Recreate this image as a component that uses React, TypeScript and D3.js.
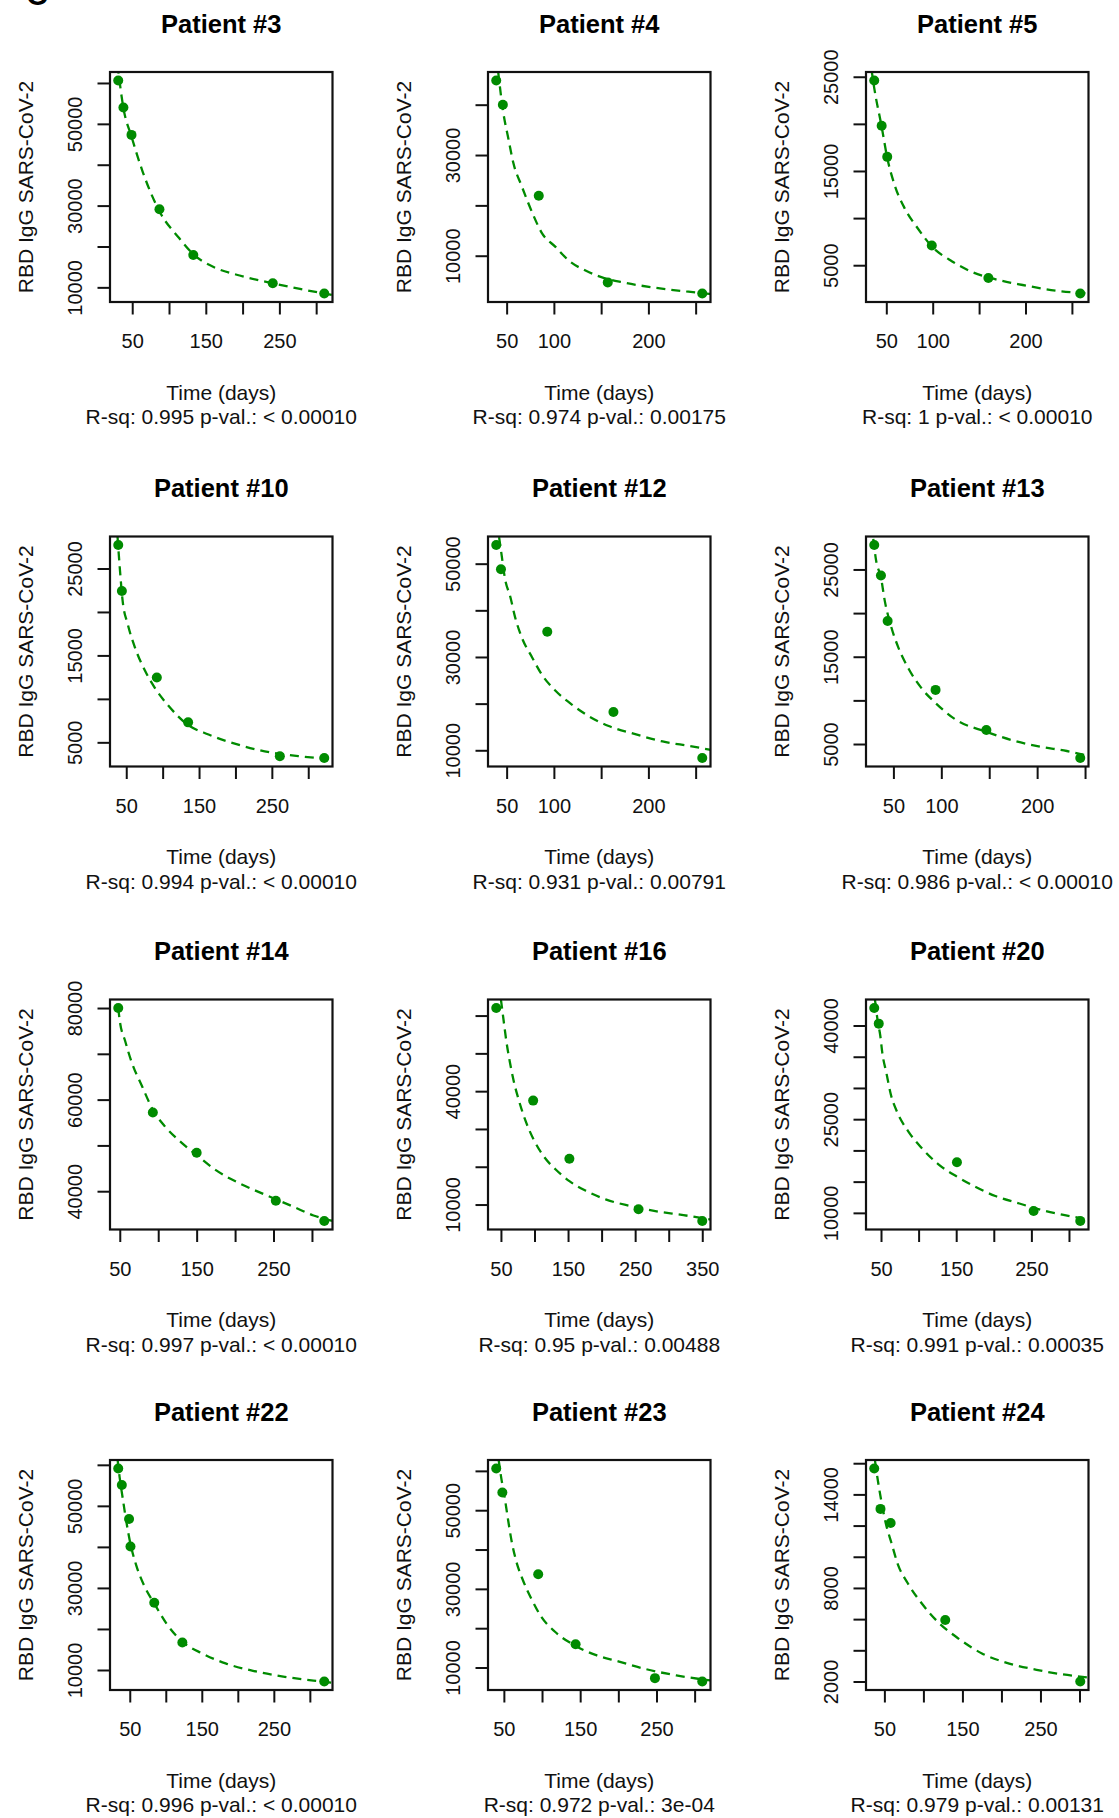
import React, { useRef, useEffect } from 'react';
import * as d3 from 'd3';

// measured points (days since onset, RBD IgG) and the fitted decay curve, per patient
const days3 = [31, 38, 49, 87, 133, 241, 311];
const igg3 = [60600, 54000, 47300, 29100, 17900, 11000, 8500];
const fitDays3 = [30, 38, 49, 64, 87, 114, 133, 164, 196, 241, 278, 323];
const fitIgg3 = [64500, 53900, 46900, 38400, 28600, 22000, 18100, 14700, 12900, 11000, 9600, 8100];

const days4 = [39, 46, 84, 157, 257];
const igg4 = [44800, 40000, 21900, 4700, 2500];
const fitDays4 = [41, 46, 52, 57, 66, 77, 87, 102, 116, 134, 151, 173, 205, 240, 266];
const fitIgg4 = [46600, 39000, 33100, 28500, 23800, 18600, 14600, 11700, 9000, 7000, 5700, 4700, 3700, 2900, 2400];

const days5 = [37, 45, 51, 99, 160, 259];
const igg5 = [24600, 19800, 16500, 7100, 3650, 2000];
const fitDays5 = [34, 37, 45, 51, 59, 70, 84, 99, 121, 142, 164, 197, 233, 268];
const fitIgg5 = [25800, 23800, 19700, 16400, 13500, 11000, 8900, 7000, 5400, 4300, 3600, 2900, 2300, 2000];

const days10 = [39, 44, 92, 135, 261, 322];
const igg10 = [27700, 22400, 12450, 7300, 3400, 3200];
const fitDays10 = [38, 41, 45, 52, 62, 76, 89, 108, 135, 163, 205, 251, 288, 333];
const fitIgg10 = [28700, 25200, 21300, 18600, 15900, 13200, 11300, 9200, 7000, 5900, 4700, 3800, 3400, 3100];

const days12 = [39, 44, 93, 163, 257];
const igg12 = [54000, 48800, 35400, 18200, 8350];
const fitDays12 = [42, 45, 48, 54, 59, 66, 77, 87, 102, 119, 137, 158, 187, 215, 244, 266];
const fitIgg12 = [55700, 51400, 47100, 42800, 38500, 34200, 29900, 26300, 22700, 19800, 17300, 15200, 13400, 11900, 10900, 10100];

const days13 = [30, 37, 44, 94, 147, 245];
const igg13 = [27800, 24300, 19100, 11200, 6600, 3400];
const fitDays13 = [29, 32, 37, 41, 47, 55, 66, 80, 94, 115, 147, 175, 203, 231, 255];
const fitIgg13 = [28500, 26000, 24100, 21400, 18700, 16100, 13600, 11300, 9700, 7800, 6400, 5400, 4700, 4200, 3600];

const days14 = [48, 93, 150, 253, 316];
const igg14 = [80000, 57200, 48400, 37900, 33500];
const fitDays14 = [48, 50, 57, 65, 79, 93, 109, 131, 150, 175, 206, 241, 276, 302, 327];
const fitIgg14 = [80000, 77200, 72800, 68400, 62900, 57800, 54100, 50500, 47900, 44600, 41700, 39100, 36600, 34700, 33500];

const days16 = [43, 98, 152, 255, 350];
const igg16 = [62000, 37500, 22100, 8750, 5650];
const fitDays16 = [50, 54, 58, 63, 69, 77, 87, 99, 114, 132, 152, 177, 207, 242, 282, 322, 363];
const fitIgg16 = [64200, 58700, 53300, 48000, 42700, 37400, 32000, 27100, 22700, 19200, 16200, 13600, 11300, 9650, 8200, 7200, 6000];

const days20 = [41, 47, 151, 253, 315];
const igg20 = [42800, 40300, 18100, 10300, 8700];
const fitDays20 = [42, 45.5, 49, 52, 57, 63, 72, 86, 104, 126, 151, 175, 202, 234, 265, 296, 327];
const fitIgg20 = [44100, 40800, 38400, 35400, 32500, 29000, 26000, 23100, 20400, 17800, 15800, 14200, 12700, 11500, 10400, 9600, 8900];

const days22 = [34, 39, 49, 51, 84, 123, 320];
const igg22 = [59100, 55100, 46800, 40100, 26400, 16700, 7200];
const fitDays22 = [33, 36, 40, 45, 51, 59, 71, 84, 101, 123, 151, 183, 221, 263, 305, 331];
const fitIgg22 = [61400, 56900, 52100, 46400, 40700, 35500, 30200, 26200, 21300, 16900, 14000, 11600, 9800, 8400, 7400, 6900];

const days23 = [40, 48, 95, 144, 248, 310];
const igg23 = [60600, 54500, 33700, 15900, 7300, 6450];
const fitDays23 = [43, 46.5, 51, 55, 60, 66, 75, 86, 99, 117, 144, 170, 201, 236, 276, 321];
const fitIgg23 = [63000, 58300, 53300, 48200, 42300, 37200, 32200, 27500, 22900, 19100, 15500, 13200, 11500, 9600, 8000, 6700];

const days24 = [37, 45, 58, 128, 301];
const igg24 = [15660, 13070, 12170, 5940, 2000];
const fitDays24 = [38, 41, 46, 52, 59, 67, 80, 98, 119, 145, 175, 210, 245, 279, 313];
const fitIgg24 = [16150, 15100, 13600, 12100, 10900, 9550, 8300, 7000, 5800, 4750, 3800, 3150, 2750, 2450, 2250];

// axis ticks (R draws every tick but drops overlapping labels)
const xTicks250 = [50, 100, 150, 200, 250];
const xTicks300 = [50, 100, 150, 200, 250, 300];
const xTicks350 = [50, 100, 150, 200, 250, 300, 350];
const xLabelsOdd = [50, 150, 250];
const xLabelsHund = [50, 100, 200];
const xLabels350 = [50, 150, 250, 350];

const yTicks10k = [10000, 20000, 30000, 40000, 50000, 60000];
const yLabels10k = [10000, 30000, 50000];
const yTicks5k = [5000, 10000, 15000, 20000, 25000];
const yLabels5k = [5000, 15000, 25000];
const yTicks4 = [10000, 20000, 30000, 40000];
const yLabels4 = [10000, 30000];
const yTicks14 = [40000, 50000, 60000, 70000, 80000];
const yLabels14 = [40000, 60000, 80000];
const yLabels16 = [10000, 40000];
const yTicks20 = [10000, 15000, 20000, 25000, 30000, 35000, 40000];
const yLabels20 = [10000, 25000, 40000];
const yTicks24 = [2000, 4000, 6000, 8000, 10000, 12000, 14000, 16000];
const yLabels24 = [2000, 8000, 14000];

const titles = ['Patient #3', 'Patient #4', 'Patient #5', 'Patient #10', 'Patient #12', 'Patient #13',
  'Patient #14', 'Patient #16', 'Patient #20', 'Patient #22', 'Patient #23', 'Patient #24'];
const stats = [
  'R-sq: 0.995 p-val.: < 0.00010', 'R-sq: 0.974 p-val.: 0.00175', 'R-sq: 1 p-val.: < 0.00010',
  'R-sq: 0.994 p-val.: < 0.00010', 'R-sq: 0.931 p-val.: 0.00791', 'R-sq: 0.986 p-val.: < 0.00010',
  'R-sq: 0.997 p-val.: < 0.00010', 'R-sq: 0.95 p-val.: 0.00488', 'R-sq: 0.991 p-val.: 0.00035',
  'R-sq: 0.996 p-val.: < 0.00010', 'R-sq: 0.972 p-val.: 3e-04', 'R-sq: 0.979 p-val.: 0.00131'];

const panels = [
  { days: days3, igg: igg3, fd: fitDays3, fi: fitIgg3, xt: xTicks300, xl: xLabelsOdd, yt: yTicks10k, yl: yLabels10k },
  { days: days4, igg: igg4, fd: fitDays4, fi: fitIgg4, xt: xTicks250, xl: xLabelsHund, yt: yTicks4, yl: yLabels4 },
  { days: days5, igg: igg5, fd: fitDays5, fi: fitIgg5, xt: xTicks250, xl: xLabelsHund, yt: yTicks5k, yl: yLabels5k },
  { days: days10, igg: igg10, fd: fitDays10, fi: fitIgg10, xt: xTicks300, xl: xLabelsOdd, yt: yTicks5k, yl: yLabels5k },
  { days: days12, igg: igg12, fd: fitDays12, fi: fitIgg12, xt: xTicks250, xl: xLabelsHund, yt: yTicks10k, yl: yLabels10k },
  { days: days13, igg: igg13, fd: fitDays13, fi: fitIgg13, xt: xTicks250, xl: xLabelsHund, yt: yTicks5k, yl: yLabels5k },
  { days: days14, igg: igg14, fd: fitDays14, fi: fitIgg14, xt: xTicks300, xl: xLabelsOdd, yt: yTicks14, yl: yLabels14 },
  { days: days16, igg: igg16, fd: fitDays16, fi: fitIgg16, xt: xTicks350, xl: xLabels350, yt: yTicks10k, yl: yLabels16 },
  { days: days20, igg: igg20, fd: fitDays20, fi: fitIgg20, xt: xTicks300, xl: xLabelsOdd, yt: yTicks20, yl: yLabels20 },
  { days: days22, igg: igg22, fd: fitDays22, fi: fitIgg22, xt: xTicks300, xl: xLabelsOdd, yt: yTicks10k, yl: yLabels10k },
  { days: days23, igg: igg23, fd: fitDays23, fi: fitIgg23, xt: xTicks300, xl: xLabelsOdd, yt: yTicks10k, yl: yLabels10k },
  { days: days24, igg: igg24, fd: fitDays24, fi: fitIgg24, xt: xTicks300, xl: xLabelsOdd, yt: yTicks24, yl: yLabels24 },
];

const FONT = '"Liberation Sans", Arial, Helvetica, sans-serif';
const GREEN = '#008b00';
const colLeft = [110, 488, 866];
const rowTop = [72, 536.5, 999.5, 1460];
const boxW = 222.5;
const boxH = 230;

// R pads the data range by 4% on each side
const padded = (v: number[]) => {
  const [lo, hi] = d3.extent(v) as [number, number];
  const pad = (hi - lo) * 0.04;
  return [lo - pad, hi + pad];
};

// R only draws ticks that fall inside the plot range
const inside = (ticks: number[], dom: number[]) => ticks.filter(t => t >= dom[0] && t <= dom[1]);

const App = () => {
  const ref = useRef<SVGSVGElement>(null);

  useEffect(() => {
    const svg = d3.select(ref.current);
    svg.selectAll('*').remove();

    svg.append('rect').attr('width', 1119).attr('height', 1818).attr('fill', 'white');

    // cut-off panel letter at the very top
    svg.append('text').attr('x', 37).attr('y', 5).attr('text-anchor', 'middle')
      .style('font-family', FONT).style('font-weight', 'bold').style('font-size', '30px').text('C');

    panels.forEach((p, i) => {
      const left = colLeft[i % 3];
      const top = rowTop[Math.floor(i / 3)];
      const g = svg.append('g').attr('transform', `translate(${left},${top})`);

      const xDom = padded(p.days);
      const yDom = padded(p.igg);
      const x = d3.scaleLinear().domain(xDom).range([0, boxW]);
      const y = d3.scaleLinear().domain(yDom).range([boxH, 0]);

      g.append('clipPath').attr('id', `clip${i}`)
        .append('rect').attr('width', boxW).attr('height', boxH);

      const line = d3.line<[number, number]>()
        .x(d => x(d[0]))
        .y(d => y(d[1]))
        .curve(d3.curveMonotoneX);

      g.append('path')
        .datum(d3.zip(p.fd, p.fi) as [number, number][])
        .attr('d', line)
        .attr('clip-path', `url(#clip${i})`)
        .style('fill', 'none')
        .style('stroke', GREEN)
        .style('stroke-width', 2.3)
        .style('stroke-dasharray', '9,6');

      g.append('g')
        .selectAll('circle')
        .data(d3.zip(p.days, p.igg))
        .enter()
        .append('circle')
        .attr('cx', d => x(d[0]))
        .attr('cy', d => y(d[1]))
        .attr('r', 5)
        .style('fill', GREEN);

      g.append('rect')
        .attr('width', boxW).attr('height', boxH)
        .style('fill', 'none').style('stroke', '#111').style('stroke-width', 2.2);

      // x axis
      const xAxis = d3.axisBottom(x).tickValues(inside(p.xt, xDom)).tickSize(12.5)
        .tickFormat(d => (p.xl.includes(+d) ? String(d) : ''));
      const xg = g.append('g').attr('transform', `translate(0,${boxH})`).call(xAxis);
      xg.select('.domain').remove();
      xg.selectAll('line').attr('stroke', '#111').attr('stroke-width', 2);
      xg.selectAll('text').attr('y', 46).attr('dy', null)
        .style('font-family', FONT).style('font-size', '20px').attr('fill', '#111');

      // y axis, labels parallel to the axis like R's las = 0
      const yAxis = d3.axisLeft(y).tickValues(inside(p.yt, yDom)).tickSize(12.5)
        .tickFormat(d => (p.yl.includes(+d) ? String(d) : ''));
      const yg = g.append('g').call(yAxis);
      yg.select('.domain').remove();
      yg.selectAll('line').attr('stroke', '#111').attr('stroke-width', 2);
      yg.selectAll('text').attr('x', 0).attr('y', -28).attr('dy', null)
        .attr('transform', 'rotate(-90)').attr('text-anchor', 'middle')
        .style('font-family', FONT).style('font-size', '20px').attr('fill', '#111');

      // titles and labels
      g.append('text').attr('x', boxW / 2).attr('y', -39.5).attr('text-anchor', 'middle')
        .style('font-family', FONT).style('font-weight', 'bold').style('font-size', '25.5px')
        .attr('fill', '#000').text(titles[i]);

      g.append('g').attr('transform', `translate(-77, ${boxH / 2})`).append('text')
        .attr('transform', 'rotate(-90)').attr('text-anchor', 'middle')
        .style('font-family', FONT).style('font-size', '21px').attr('fill', '#111')
        .text('RBD IgG SARS-CoV-2');

      g.append('text').attr('x', boxW / 2).attr('y', boxH + 97.5).attr('text-anchor', 'middle')
        .style('font-family', FONT).style('font-size', '21px').attr('fill', '#111')
        .text('Time (days)');

      g.append('text').attr('x', boxW / 2).attr('y', boxH + 122).attr('text-anchor', 'middle')
        .style('font-family', FONT).style('font-size', '21px').attr('fill', '#111')
        .text(stats[i]);
    });
  }, []);

  return (
    <div style={{ position: 'absolute', left: 0, top: 0 }}>
      <svg ref={ref} width={1119} height={1818} style={{ display: 'block' }}></svg>
    </div>
  );
};

export default App;
